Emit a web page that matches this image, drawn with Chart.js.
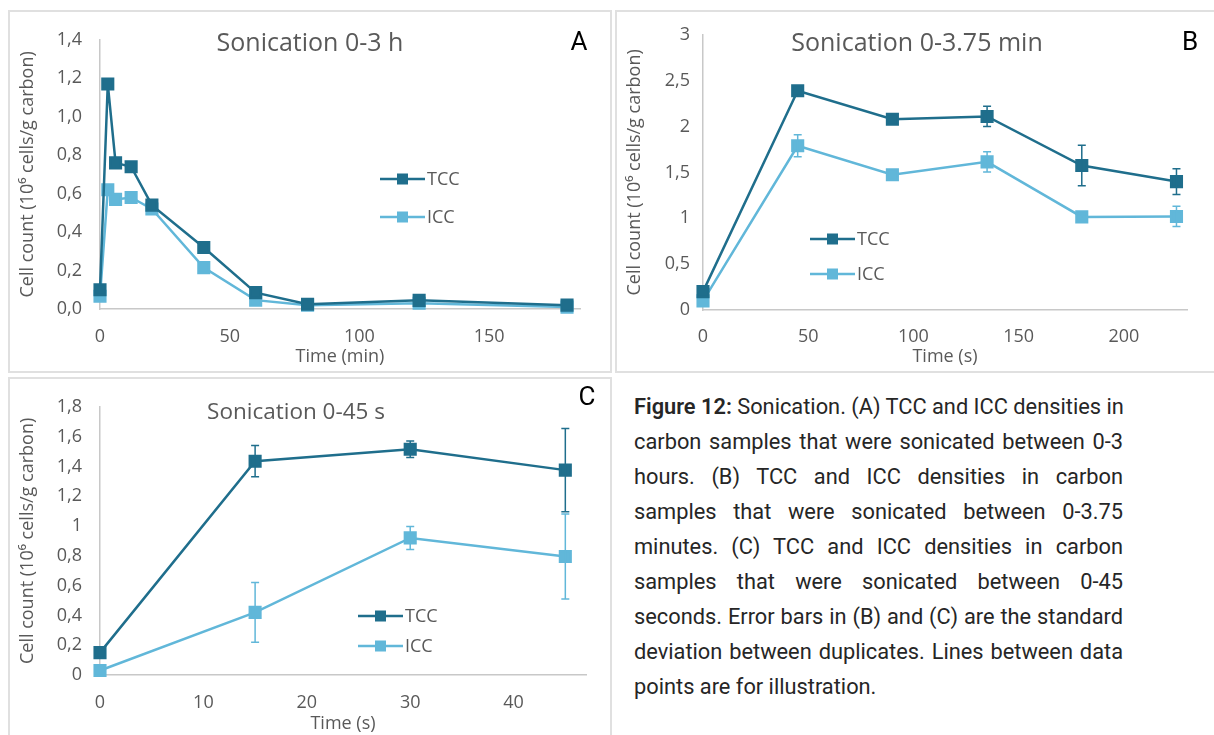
<!DOCTYPE html>
<html>
<head>
<meta charset="utf-8">
<script src="https://cdn.jsdelivr.net/npm/chart.js@4.4.1/dist/chart.umd.min.js"></script>
<style>
  body { margin: 0; background: #fff; width: 1214px; height: 735px; overflow: hidden; position: relative; font-family: Roboto, sans-serif; }
  .box { position: absolute; border: 2px solid #e0e0e0; box-sizing: border-box; }
  canvas { position: absolute; }
  #caption { position: absolute; left: 634px; top: 389px; width: 489px; font-size: 21.8px; line-height: 35px; color: #262626; }
  #caption div { text-align: justify; text-align-last: justify; white-space: nowrap; }
  #caption div.last { text-align-last: left; }
  #caption b { font-weight: 600; }
</style>
</head>
<body>
<div class="box" style="left:8px;top:10px;width:604px;height:363px"></div>
<div class="box" style="left:615px;top:10px;width:620px;height:363px"></div>
<div class="box" style="left:8px;top:377px;width:604px;height:380px"></div>
<canvas id="chartA" width="600" height="358" style="left:9px;top:11px"></canvas>
<canvas id="chartB" width="598" height="358" style="left:616px;top:11px"></canvas>
<canvas id="chartC" width="602" height="357" style="left:9px;top:378px"></canvas>
<div id="caption">
  <div><b>Figure 12:</b> Sonication. (A) TCC and ICC densities in</div>
  <div>carbon samples that were sonicated between 0-3</div>
  <div>hours. (B) TCC and ICC densities in carbon</div>
  <div>samples that were sonicated between 0-3.75</div>
  <div>minutes. (C) TCC and ICC densities in carbon</div>
  <div>samples that were sonicated between 0-45</div>
  <div>seconds. Error bars in (B) and (C) are the standard</div>
  <div>deviation between duplicates. Lines between data</div>
  <div class="last">points are for illustration.</div>
</div>
<script>
// A: 0-3 h (minutes)
const timeA = [0, 3, 6, 12, 20, 40, 60, 80, 123, 180];
const tccA = [0.10, 1.17, 0.76, 0.74, 0.54, 0.32, 0.085, 0.025, 0.045, 0.02];
const iccA = [0.066, 0.62, 0.57, 0.58, 0.52, 0.215, 0.046, 0.02, 0.03, 0.01];
const xTicksA = [0, 50, 100, 150];
const yTicksA = [0, 0.2, 0.4, 0.6, 0.8, 1.0, 1.2, 1.4];
const yLabelsA = ["0,0", "0,2", "0,4", "0,6", "0,8", "1,0", "1,2", "1,4"];

// B: 0-3.75 min (seconds)
const timeB = [0, 45, 90, 135, 180, 225];
const tccB = [0.2, 2.39, 2.08, 2.11, 1.575, 1.40];
const tccErrB = [0, 0, 0, 0.11, 0.22, 0.14];
const iccB = [0.1, 1.79, 1.475, 1.615, 1.015, 1.02];
const iccErrB = [0, 0.12, 0, 0.11, 0.02, 0.11];
const xTicksB = [0, 50, 100, 150, 200];
const yTicksB = [0, 0.5, 1, 1.5, 2, 2.5, 3];
const yLabelsB = ["0", "0,5", "1", "1,5", "2", "2,5", "3"];

// C: 0-45 s
const timeC = [0, 15, 30, 45];
const tccC = [0.15, 1.435, 1.515, 1.375];
const tccErrC = [0, 0.105, 0.056, 0.28];
const iccC = [0.03, 0.42, 0.92, 0.795];
const iccErrC = [0, 0.2, 0.077, 0.285];
const xTicksC = [0, 10, 20, 30, 40];
const yTicksC = [0, 0.2, 0.4, 0.6, 0.8, 1, 1.2, 1.4, 1.6, 1.8];
const yLabelsC = ["0", "0,2", "0,4", "0,6", "0,8", "1", "1,2", "1,4", "1,6", "1,8"];

const TCC_COLOR = "#1f6e8c";
const ICC_COLOR = "#61b7d9";
const GREY = "#595959";
const FONT = "'Open Sans', sans-serif";

Chart.defaults.font.family = FONT;
Chart.defaults.color = GREY;

// vertical error bars with caps, drawn from the y scale
const errorBars = {
  id: "errorBars",
  afterDatasetsDraw(chart) {
    const { ctx } = chart;
    const y = chart.scales.y;
    chart.data.datasets.forEach((ds, i) => {
      if (!ds.errors) return;
      const meta = chart.getDatasetMeta(i);
      ctx.save();
      ctx.strokeStyle = ds.borderColor;
      ctx.lineWidth = 1.5;
      meta.data.forEach((pt, j) => {
        const e = ds.errors[j];
        if (!e) return;
        const v = ds.data[j].y;
        const top = y.getPixelForValue(v + e);
        const bot = y.getPixelForValue(v - e);
        ctx.beginPath();
        ctx.moveTo(pt.x, top); ctx.lineTo(pt.x, bot);
        ctx.moveTo(pt.x - 4, top); ctx.lineTo(pt.x + 4, top);
        ctx.moveTo(pt.x - 4, bot); ctx.lineTo(pt.x + 4, bot);
        ctx.stroke();
      });
      ctx.restore();
    });
  }
};

// title, panel letter and the in-plot legend
const panelDecor = {
  id: "panelDecor",
  afterDraw(chart, args, o) {
    const ctx = chart.ctx;
    ctx.save();
    ctx.textBaseline = "middle";
    ctx.textAlign = "center";
    ctx.fillStyle = GREY;
    ctx.font = o.titleSize + "px " + FONT;
    ctx.fillText(o.title, o.titleX, o.titleY);
    ctx.fillStyle = "#000";
    ctx.font = "26px Roboto, sans-serif";
    ctx.fillText(o.letter, o.letterX, o.letterY);

    ctx.font = "18px " + FONT;
    ctx.textAlign = "left";
    chart.data.datasets.forEach((ds, i) => {
      const ly = o.legendY + i * o.legendGap;
      ctx.strokeStyle = ds.borderColor;
      ctx.lineWidth = 2.5;
      ctx.beginPath();
      ctx.moveTo(o.legendX, ly);
      ctx.lineTo(o.legendX + 45, ly);
      ctx.stroke();
      ctx.fillStyle = ds.borderColor;
      ctx.fillRect(o.legendX + 17, ly - 5.5, 11, 11);
      ctx.fillStyle = GREY;
      ctx.fillText(ds.label, o.legendX + 47, ly + 1);
    });
    ctx.restore();
  }
};

function series(label, xs, ys, color, errs) {
  return {
    label: label,
    data: xs.map((x, i) => ({ x: x, y: ys[i] })),
    errors: errs,
    borderColor: color,
    backgroundColor: color,
    pointBackgroundColor: color,
    pointBorderColor: color,
    borderWidth: 2.5,
    pointStyle: "rect",
    pointRadius: 7.5,
    pointHoverRadius: 7.5,
    tension: 0,
    clip: false
  };
}

function makeChart(id, p) {
  new Chart(document.getElementById(id), {
    type: "line",
    data: { datasets: p.datasets },
    plugins: [errorBars, panelDecor],
    options: {
      responsive: false,
      animation: false,
      layout: { padding: { left: 0, top: p.top, right: p.right, bottom: 0 } },
      plugins: {
        legend: { display: false },
        tooltip: { enabled: false },
        panelDecor: p.decor
      },
      scales: {
        x: {
          type: "linear",
          min: 0,
          max: p.xMax,
          afterBuildTicks: (s) => { s.ticks = p.xTicks.map((v) => ({ value: v })); },
          afterFit: (s) => { s.height = p.xHeight; },
          grid: { display: false, drawTicks: false },
          border: { display: true, color: "#c8c8c8", width: 1.5 },
          ticks: { padding: p.xTickPad, font: { size: 18 }, color: GREY, maxRotation: 0 },
          title: { display: true, text: p.xTitle, font: { size: 18 }, color: GREY, padding: { top: 0, bottom: p.xTitlePad } }
        },
        y: {
          min: 0,
          max: p.yTicks[p.yTicks.length - 1],
          afterBuildTicks: (s) => { s.ticks = p.yTicks.map((v) => ({ value: v })); },
          afterFit: (s) => { s.width = p.yWidth; },
          grid: { display: false, drawTicks: false },
          border: { display: true, color: "#c8c8c8", width: 1.5 },
          ticks: { padding: p.yTickPad, font: { size: 18 }, color: GREY, callback: (v, i) => p.yLabels[i] },
          title: { display: true, text: "Cell count (10⁶ cells/g carbon)", font: { size: 18 }, color: GREY, padding: { top: 8, bottom: 0 } }
        }
      }
    }
  });
}

makeChart("chartA", {
  datasets: [series("TCC", timeA, tccA, TCC_COLOR), series("ICC", timeA, iccA, ICC_COLOR)],
  xMax: 185, xTicks: xTicksA, yTicks: yTicksA, yLabels: yLabelsA,
  top: 23, right: 29, yWidth: 91, xHeight: 60,
  xTickPad: 17, yTickPad: 18, xTitle: "Time (min)", xTitlePad: 1,
  decor: { title: "Sonication 0-3 h", titleSize: 25, titleX: 301, titleY: 33, letter: "A", letterX: 570, letterY: 32,
           legendX: 371, legendY: 168, legendGap: 38 }
});

makeChart("chartB", {
  datasets: [series("TCC", timeB, tccB, TCC_COLOR, tccErrB), series("ICC", timeB, iccB, ICC_COLOR, iccErrB)],
  xMax: 230, xTicks: xTicksB, yTicks: yTicksB, yLabels: yLabelsB,
  top: 21, right: 27, yWidth: 87, xHeight: 59,
  xTickPad: 16, yTickPad: 13, xTitle: "Time (s)", xTitlePad: 1,
  decor: { title: "Sonication 0-3.75 min", titleSize: 25, titleX: 301, titleY: 33, letter: "B", letterX: 574, letterY: 32,
           legendX: 194, legendY: 228, legendGap: 35 }
});

makeChart("chartC", {
  datasets: [series("TCC", timeC, tccC, TCC_COLOR, tccErrC), series("ICC", timeC, iccC, ICC_COLOR, iccErrC)],
  xMax: 47, xTicks: xTicksC, yTicks: yTicksC, yLabels: yLabelsC,
  top: 25, right: 25, yWidth: 91, xHeight: 60,
  xTickPad: 17, yTickPad: 18, xTitle: "Time (s)", xTitlePad: 0,
  decor: { title: "Sonication 0-45 s", titleSize: 22.5, titleX: 287, titleY: 35, letter: "C", letterX: 578, letterY: 20,
           legendX: 349, legendY: 238, legendGap: 30 }
});
</script>
</body>
</html>
